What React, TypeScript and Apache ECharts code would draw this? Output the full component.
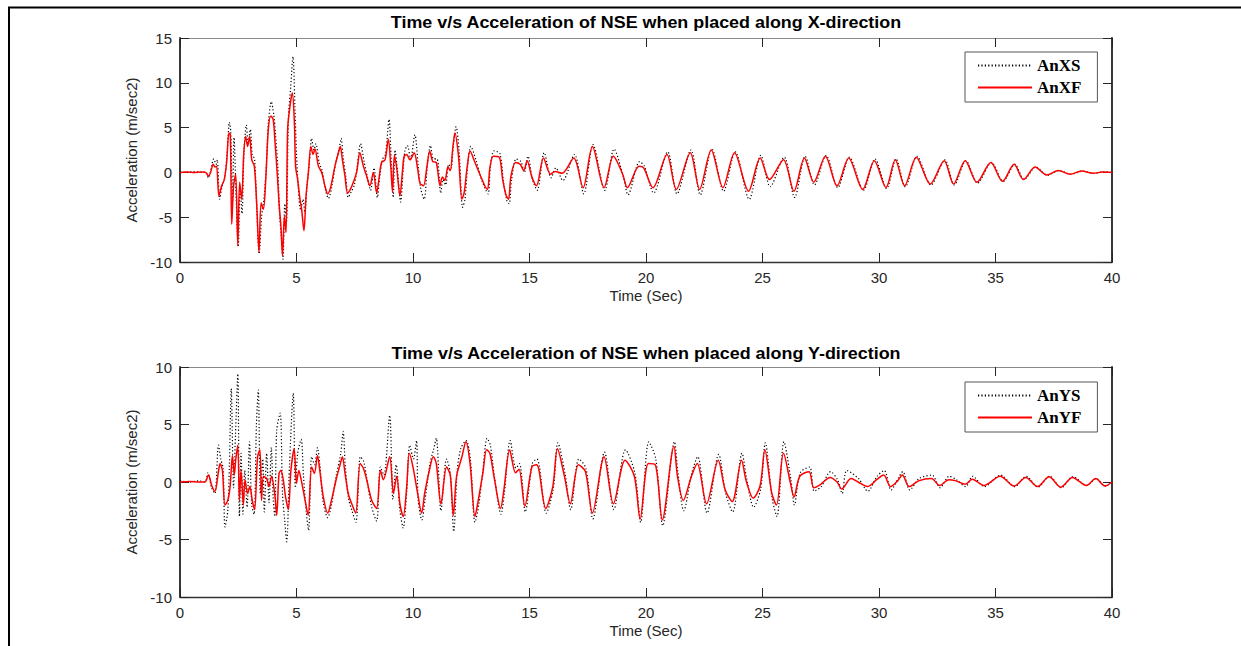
import { useEffect, useRef } from "react";
import * as echarts from "echarts";

// ---- Data (time in s, acceleration in m/sec2) ----
const xTicks = [0, 5, 10, 15, 20, 25, 30, 35, 40];

const anXS: [number, number][] = [
  [0,0.1],[0.3,0],[0.6,0.1],[0.9,0],[1.1,0.05],[1.22,-0.6],[1.3,0],[1.45,1.5],[1.55,0.9],[1.6,1.4],[1.7,-3.0],[1.8,-1.6],[1.92,-0.6],[2.02,2.0],[2.12,5.6],[2.18,4.5],[2.25,-3.5],[2.32,3.9],[2.4,-2],[2.5,-8.3],[2.58,-1.5],[2.66,-4.6],[2.75,2.5],[2.85,5.3],[2.92,3.2],[3.02,4.8],[3.1,2.0],[3.2,1.5],[3.3,-4.4],[3.4,-9.1],[3.5,-5],[3.6,-3],[3.7,0.5],[3.8,5.8],[3.92,7.9],[4.02,6.5],[4.1,4.2],[4.2,0.5],[4.27,-4.5],[4.35,-7.2],[4.42,-9.7],[4.5,-3.5],[4.57,-5.5],[4.65,6.0],[4.75,9.5],[4.85,12.9],[4.93,7.5],[5.0,2.0],[5.08,-1.8],[5.18,-4.2],[5.28,-3.0],[5.36,-4.5],[5.45,-1.5],[5.55,1.0],[5.65,3.8],[5.75,2.5],[5.83,3.2],[5.98,1.0],[6.1,0.2],[6.25,-2.0],[6.37,-2.9],[6.5,-1.8],[6.68,1.0],[6.83,2.6],[6.92,3.8],[7.0,1.8],[7.12,-0.6],[7.22,-2.8],[7.34,-2.2],[7.47,-1.5],[7.6,0.5],[7.75,3.2],[7.9,1.2],[8.05,-0.6],[8.18,-2.0],[8.33,0.5],[8.47,-2.8],[8.58,-0.3],[8.7,1.5],[8.82,2.0],[8.97,5.9],[9.07,1.0],[9.15,-2.8],[9.23,2.5],[9.33,0.3],[9.47,-3.3],[9.58,0.4],[9.65,2.4],[9.76,3.0],[9.9,1.5],[10.08,4.2],[10.22,0.8],[10.33,-1.8],[10.48,-3.0],[10.62,0.9],[10.75,3.0],[10.88,1.5],[11.03,1.5],[11.19,-2.3],[11.29,-0.8],[11.4,-1.4],[11.53,0.9],[11.63,0.5],[11.73,3.0],[11.85,5.1],[11.98,2.4],[12.13,-3.9],[12.23,-3.0],[12.35,0.8],[12.48,2.9],[12.7,1.4],[12.93,-0.7],[13.13,-2.0],[13.23,-2.4],[13.33,0.9],[13.48,2.4],[13.73,2.1],[13.88,-1.0],[14.03,-3.2],[14.13,-3.5],[14.23,-0.8],[14.43,1.5],[14.63,1.2],[14.78,0.0],[14.93,1.8],[15.13,-0.8],[15.33,-2.0],[15.63,2.2],[15.93,-0.6],[16.13,0.5],[16.43,-0.9],[16.93,2.0],[17.33,-2.4],[17.73,3.1],[18.23,-2.0],[18.63,2.6],[19.03,-0.5],[19.23,-2.5],[19.73,1.2],[19.93,0.7],[20.33,-2.3],[20.93,2.3],[21.33,-2.4],[21.93,2.5],[22.33,-2.5],[22.83,2.6],[23.33,-2.1],[23.83,2.3],[24.43,-3.0],[24.93,1.9],[25.33,-1.6],[25.93,1.7],[26.38,-2.8],[26.83,1.8],[27.23,-1.4],[27.73,1.9],[28.23,-1.7],[28.73,1.7],[29.33,-2.0],[29.83,1.5],[30.33,-1.8],[30.73,1.5],[31.13,-1.6],[31.63,1.8],[32.23,-1.4],[32.83,1.4],[33.23,-1.4],[33.73,1.3],[34.23,-1.2],[34.83,1.1],[35.33,-1.0],[35.83,0.9],[36.23,-0.8],[36.73,0.6],[37.23,-0.3],[37.73,0.2],[38.23,-0.2],[38.73,0.15],[39.23,-0.1],[39.63,0.05],[40,0]
];

const anXF: [number, number][] = [
  [0,0],[0.3,0.05],[0.6,0],[0.9,0.05],[1.1,0],[1.22,-0.4],[1.3,-0.1],[1.43,0.9],[1.5,0.6],[1.57,0.7],[1.67,-2.6],[1.79,-1.5],[1.9,-0.8],[2.0,1.1],[2.1,4.4],[2.16,4.2],[2.22,-5.8],[2.3,-1.5],[2.39,-0.2],[2.48,-8.2],[2.56,-1.1],[2.65,-3],[2.73,1.8],[2.82,4.0],[2.9,2.9],[2.99,4.0],[3.08,1.4],[3.19,0.7],[3.29,-3.4],[3.39,-8.9],[3.48,-3.4],[3.58,-4.1],[3.68,-0.8],[3.79,4.8],[3.9,6.3],[4.0,5.9],[4.07,3.7],[4.18,-0.4],[4.25,-3.4],[4.33,-6],[4.4,-9.3],[4.48,-4.9],[4.55,-6.7],[4.62,4.8],[4.72,7.4],[4.82,8.9],[4.91,5.5],[4.96,0.7],[5.05,-0.8],[5.15,-3],[5.22,-4.1],[5.32,-6.5],[5.41,-2.6],[5.51,0],[5.62,2.9],[5.71,2],[5.79,2.6],[5.94,0.7],[6.08,0],[6.22,-1.5],[6.34,-2.4],[6.48,-1.5],[6.65,0.7],[6.8,2.2],[6.88,2.9],[6.97,1.4],[7.08,-0.4],[7.19,-2.3],[7.31,-1.9],[7.44,-1.1],[7.58,0],[7.72,2.2],[7.87,0.7],[8.01,-0.4],[8.15,-1.5],[8.3,0],[8.44,-2.3],[8.55,-0.5],[8.65,1.1],[8.8,1.4],[8.94,3.7],[9.05,0.5],[9.12,-2.2],[9.2,1.9],[9.3,0.5],[9.44,-2.6],[9.55,0.2],[9.62,1.8],[9.73,2.0],[9.87,1.4],[10.05,2.2],[10.2,0.4],[10.3,-1.2],[10.45,-1.5],[10.6,0.7],[10.72,2.4],[10.85,1.2],[11.0,1.1],[11.16,-1.5],[11.26,-0.5],[11.37,-0.9],[11.5,0.6],[11.6,0.2],[11.7,2.5],[11.8,4.4],[11.95,1.9],[12.1,-3.0],[12.2,-2.2],[12.32,0.5],[12.45,2.4],[12.66,1.1],[12.9,-0.4],[13.1,-1.6],[13.2,-1.9],[13.3,0.5],[13.45,1.8],[13.7,1.7],[13.85,-0.8],[14.0,-2.6],[14.1,-3],[14.2,-0.5],[14.4,1.1],[14.6,0.9],[14.75,0.2],[14.9,1.3],[15.1,-0.5],[15.3,-1.5],[15.6,1.6],[15.9,-0.2],[16.1,0.1],[16.4,-0.1],[16.9,1.6],[17.3,-1.7],[17.7,2.9],[18.2,-1.7],[18.6,1.8],[19.0,-0.2],[19.2,-1.7],[19.7,0.7],[19.9,0.5],[20.3,-1.7],[20.9,2.0],[21.3,-1.9],[21.9,2.2],[22.3,-1.9],[22.8,2.5],[23.3,-1.7],[23.8,2.2],[24.4,-2.1],[24.9,1.6],[25.3,-0.8],[25.9,1.4],[26.35,-2.1],[26.8,1.6],[27.2,-1.1],[27.7,1.8],[28.2,-1.5],[28.7,1.6],[29.3,-1.9],[29.8,1.3],[30.3,-1.7],[30.7,1.4],[31.1,-1.5],[31.6,1.7],[32.2,-1.3],[32.8,1.3],[33.2,-1.3],[33.7,1.3],[34.2,-1.1],[34.8,1.1],[35.3,-1.0],[35.8,0.9],[36.2,-0.8],[36.7,0.6],[37.2,-0.3],[37.7,0.2],[38.2,-0.2],[38.7,0.15],[39.2,-0.1],[39.6,0.05],[40,0]
];

const anYS: [number, number][] = [
  [0,0.1],[0.4,0],[0.8,0.1],[1.07,0],[1.2,0.8],[1.36,-0.5],[1.5,-1.0],[1.65,3.2],[1.75,2.0],[1.85,1.2],[1.93,-3.9],[2.05,-2.5],[2.12,1.5],[2.2,8.1],[2.3,-0.5],[2.38,4.0],[2.48,9.4],[2.55,-3.0],[2.62,2.5],[2.7,-2.8],[2.78,1.0],[2.88,-2.2],[2.98,3.5],[3.08,-2.0],[3.18,-2.8],[3.28,5.0],[3.36,8.0],[3.45,-1.0],[3.55,2.0],[3.62,-2.6],[3.72,2.5],[3.82,-1.8],[3.92,3.0],[4.0,-1.5],[4.07,-3.0],[4.15,4.5],[4.3,6.0],[4.4,-1.0],[4.5,-3.5],[4.58,-5.2],[4.7,1.5],[4.86,7.7],[4.95,-0.5],[5.05,2.5],[5.2,3.7],[5.3,0.5],[5.42,-2.6],[5.52,-4.2],[5.65,2.2],[5.78,1.5],[5.9,3.0],[6.0,1.5],[6.15,-1.8],[6.34,-3.1],[6.5,-2.0],[6.7,0.5],[6.9,2.5],[7.0,4.4],[7.1,1.2],[7.23,-1.4],[7.38,-2.5],[7.55,-3.5],[7.74,2.2],[7.88,1.8],[8.0,0.5],[8.23,-2.2],[8.44,-3.4],[8.6,1.3],[8.75,0.6],[9.0,5.8],[9.14,-1.5],[9.28,1.5],[9.44,-2.5],[9.58,-4.0],[9.73,-0.8],[9.86,3.2],[10.02,2.0],[10.15,3.6],[10.22,-1.5],[10.38,-3.3],[10.52,-1.5],[10.72,1.5],[10.88,2.8],[11.0,3.8],[11.2,-2.5],[11.44,2.0],[11.6,0.8],[11.75,-4.3],[11.9,1.0],[12.05,2.9],[12.28,3.6],[12.46,2.0],[12.66,-3.5],[12.82,-2.0],[13.0,1.0],[13.18,3.8],[13.32,3.2],[13.5,0.4],[13.78,-2.8],[13.92,-1.0],[14.17,3.6],[14.42,1.2],[14.57,1.6],[14.82,-2.6],[15.12,1.6],[15.32,2.0],[15.42,1.4],[15.72,-2.7],[16.02,-0.6],[16.22,3.4],[16.52,0.8],[16.77,-2.4],[17.12,2.0],[17.42,1.2],[17.72,-3.2],[18.22,2.6],[18.62,-2.4],[19.12,2.8],[19.52,0.8],[19.77,-3.5],[20.12,3.5],[20.42,2.0],[20.72,-3.8],[21.22,3.5],[21.37,0.8],[21.62,-2.5],[21.97,0.8],[22.22,2.2],[22.62,-2.7],[23.12,2.4],[23.42,-1.0],[23.72,-2.6],[24.12,2.5],[24.32,0.3],[24.62,-2.2],[24.92,-0.6],[25.12,3.4],[25.42,-1.5],[25.62,-3.0],[25.92,3.5],[26.22,0.2],[26.37,-2.0],[26.62,0.8],[27.02,1.3],[27.22,-0.8],[27.52,-0.4],[27.92,0.9],[28.22,0.2],[28.42,-1.0],[28.62,1.0],[29.12,0.3],[29.52,-0.8],[29.92,0.5],[30.22,1.0],[30.52,-0.7],[30.82,0.3],[31.02,0.9],[31.32,-0.7],[31.72,0.3],[32.27,0.6],[32.62,-0.5],[33.02,0.5],[33.32,0.2],[33.72,-0.4],[34.02,0.5],[34.52,-0.4],[35.22,0.6],[35.82,-0.4],[36.32,0.5],[36.82,-0.45],[37.32,0.5],[37.82,-0.5],[38.32,0.45],[38.92,-0.3],[39.32,0.3],[39.72,-0.35],[40,0]
];

const anYF: [number, number][] = [
  [0,0],[0.4,0.05],[0.8,0],[1.07,0],[1.22,0.6],[1.36,-0.3],[1.5,-0.8],[1.64,0.75],[1.72,1.6],[1.82,1.0],[1.93,-2.0],[2.05,-1.6],[2.15,-0.4],[2.25,2.3],[2.33,0.6],[2.39,1.9],[2.48,3.2],[2.55,-1.6],[2.62,1.0],[2.72,-2.0],[2.79,0.2],[2.9,-1.0],[3.0,-0.4],[3.1,-1.6],[3.2,-2.4],[3.33,2.2],[3.43,2.8],[3.5,-1.6],[3.58,0.5],[3.72,0.3],[3.82,-0.4],[3.93,0.5],[4.08,-1.3],[4.15,-2.9],[4.25,0.75],[4.33,1.0],[4.43,0.2],[4.53,-1.3],[4.65,-2.4],[4.76,1.0],[4.9,2.9],[5.0,-0.1],[5.1,1.0],[5.2,0.2],[5.37,-1.6],[5.5,-2.9],[5.65,1.3],[5.77,0.75],[5.9,2.3],[6.0,1.0],[6.15,-1.3],[6.34,-2.7],[6.5,-1.6],[6.7,0.2],[6.87,1.5],[6.97,2.2],[7.08,0.8],[7.22,-1.0],[7.37,-1.9],[7.54,-2.7],[7.73,1.6],[7.87,1.2],[8.0,0.3],[8.23,-1.6],[8.44,-2.3],[8.6,1.0],[8.73,0.2],[9.0,2.2],[9.16,-1.0],[9.3,0.5],[9.44,-1.9],[9.58,-3.0],[9.73,-0.4],[9.84,2.5],[10.0,1.3],[10.2,-1.0],[10.37,-2.7],[10.5,-1.0],[10.7,1.0],[10.87,2.2],[11.0,1.6],[11.2,-1.9],[11.44,1.3],[11.6,0.6],[11.73,-2.9],[11.87,0.5],[12.1,2.2],[12.27,3.5],[12.45,1.6],[12.66,-3.0],[12.8,-1.6],[13.0,0.8],[13.16,2.8],[13.3,2.5],[13.5,0.2],[13.76,-2.3],[13.9,-0.7],[14.15,2.8],[14.4,0.8],[14.55,1.1],[14.8,-2.1],[15.1,1.3],[15.3,1.5],[15.4,1.1],[15.7,-2.3],[16.0,-0.4],[16.2,2.9],[16.5,0.5],[16.75,-1.9],[17.1,1.5],[17.4,0.9],[17.7,-2.7],[18.2,2.2],[18.6,-1.9],[19.1,1.9],[19.5,0.5],[19.75,-3.2],[20.1,1.6],[20.4,1.5],[20.7,-3.3],[21.2,3.1],[21.35,0.5],[21.6,-1.6],[21.95,0.5],[22.2,1.6],[22.6,-1.9],[23.1,1.9],[23.4,-0.7],[23.7,-1.7],[24.1,1.9],[24.3,0.1],[24.6,-1.4],[24.9,-0.3],[25.1,2.8],[25.4,-1.0],[25.6,-2.0],[25.9,2.5],[26.2,-0.1],[26.35,-1.3],[26.6,0.5],[27.0,0.9],[27.2,-0.5],[27.5,-0.2],[27.9,0.4],[28.2,0.0],[28.4,-0.6],[28.8,0.3],[29.1,0.0],[29.5,-0.4],[29.9,0.2],[30.2,0.6],[30.5,-0.4],[30.8,0.1],[31.0,0.6],[31.3,-0.4],[31.7,0.1],[32.25,0.3],[32.6,-0.3],[33.0,0.2],[33.3,0.1],[33.7,-0.2],[34.0,0.25],[34.5,-0.3],[35.2,0.5],[35.8,-0.35],[36.3,0.4],[36.8,-0.4],[37.3,0.45],[37.8,-0.45],[38.3,0.4],[38.9,-0.3],[39.3,0.3],[39.7,-0.35],[40,0]
];

const titles = [
  "Time v/s Acceleration of NSE when placed along X-direction",
  "Time v/s Acceleration of NSE when placed along Y-direction",
];

const AXIS_COLOR = "#262626";
const FONT = "Liberation Sans, Arial, sans-serif";

function makeAxes(gridIndex: number, yMin: number, yMax: number) {
  const tick = { show: true, inside: true, length: 9, lineStyle: { color: AXIS_COLOR, width: 1 } };
  const xBottom = {
    type: "value", gridIndex, min: xTicks[0], max: xTicks[xTicks.length - 1], interval: 5, position: "bottom",
    axisLine: { show: true, onZero: false, lineStyle: { color: "#333", width: 1.3 } },
    axisTick: tick,
    axisLabel: { show: true, fontSize: 15, color: AXIS_COLOR, fontFamily: FONT, margin: 8 },
    splitLine: { show: false },
    name: "Time (Sec)", nameLocation: "middle", nameGap: 26,
    nameTextStyle: { fontSize: 15, color: AXIS_COLOR, fontFamily: FONT },
  };
  const xTop = {
    type: "value", gridIndex, min: xTicks[0], max: xTicks[xTicks.length - 1], interval: 5, position: "top",
    axisLine: { show: true, onZero: false, lineStyle: { color: "#8a8a8a", width: 1 } },
    axisTick: tick, axisLabel: { show: false }, splitLine: { show: false },
  };
  const yLeft = {
    type: "value", gridIndex, min: yMin, max: yMax, interval: 5, position: "left",
    axisLine: { show: true, onZero: false, lineStyle: { color: "#222", width: 1.8 } },
    axisTick: tick,
    axisLabel: { show: true, fontSize: 15, color: AXIS_COLOR, fontFamily: FONT, margin: 8 },
    splitLine: { show: false },
    name: "Acceleration (m/sec2)", nameLocation: "middle", nameGap: 41,
    nameTextStyle: { fontSize: 15, color: AXIS_COLOR, fontFamily: FONT },
  };
  const yRight = {
    type: "value", gridIndex, min: yMin, max: yMax, interval: 5, position: "right",
    axisLine: { show: true, onZero: false, lineStyle: { color: "#222", width: 1.8 } },
    axisTick: tick, axisLabel: { show: false }, splitLine: { show: false },
  };
  return { x: [xBottom, xTop], y: [yLeft, yRight] };
}

function legendFor(names: string[], top: number) {
  return {
    data: names,
    orient: "vertical",
    left: 965,
    top,
    itemWidth: 54,
    itemHeight: 14,
    itemGap: 5,
    padding: [5, 16, 6, 12],
    borderColor: "#555",
    borderWidth: 1,
    backgroundColor: "#fff",
    itemStyle: { opacity: 0 },
    textStyle: { fontFamily: "Liberation Serif, Times New Roman, serif", fontWeight: "bold", fontSize: 17, color: "#000", lineHeight: 14 },
  };
}

export default function App() {
  const ref = useRef<HTMLDivElement>(null);

  useEffect(() => {
    if (!ref.current) return;
    document.body.style.margin = "0";
    const chart = echarts.init(ref.current, undefined, { renderer: "svg" });
    const a0 = makeAxes(0, -10, 15);
    const a1 = makeAxes(1, -10, 10);
    const dotted = (data: [number, number][], xi: number, yi: number, name: string) => ({
      type: "line", name, data, xAxisIndex: xi, yAxisIndex: yi, showSymbol: false, symbol: "none",
      smooth: 0.3, lineStyle: { color: "#000", width: 1.2, type: [1.2, 2.2] }, itemStyle: { color: "#000" },
      z: 2,
    });
    const solid = (data: [number, number][], xi: number, yi: number, name: string) => ({
      type: "line", name, data, xAxisIndex: xi, yAxisIndex: yi, showSymbol: false, symbol: "none",
      smooth: 0.3, lineStyle: { color: "#ff0000", width: 1.5 }, itemStyle: { color: "#ff0000" },
      z: 3,
    });
    chart.setOption({
      animation: false,
      backgroundColor: "#fff",
      grid: [
        { left: 180, top: 38, width: 932, height: 224, containLabel: false },
        { left: 180, top: 367, width: 932, height: 230, containLabel: false },
      ],
      xAxis: [...a0.x, ...a1.x],
      yAxis: [...a0.y, ...a1.y],
      legend: [legendFor(["AnXS", "AnXF"], 52), legendFor(["AnYS", "AnYF"], 382)],
      series: [
        dotted(anXS, 0, 0, "AnXS"),
        solid(anXF, 0, 0, "AnXF"),
        dotted(anYS, 2, 2, "AnYS"),
        solid(anYF, 2, 2, "AnYF"),
      ],
      graphic: [
        { type: "line", shape: { x1: 9, y1: 7, x2: 9, y2: 646 }, style: { stroke: "#000", lineWidth: 2 } },
        { type: "line", shape: { x1: 8, y1: 7.5, x2: 1241, y2: 7.5 }, style: { stroke: "#000", lineWidth: 2 } },
        { type: "text", x: 646, y: 23, scaleX: 1.12, style: { text: titles[0], align: "center", verticalAlign: "middle", fill: "#000", font: "bold 16px " + FONT } },
        { type: "text", x: 646, y: 354, scaleX: 1.12, style: { text: titles[1], align: "center", verticalAlign: "middle", fill: "#000", font: "bold 16px " + FONT } },
      ],
    });
    return () => chart.dispose();
  }, []);

  return <div ref={ref} style={{ position: "absolute", left: 0, top: 0, width: 1241, height: 646 }} />;
}
